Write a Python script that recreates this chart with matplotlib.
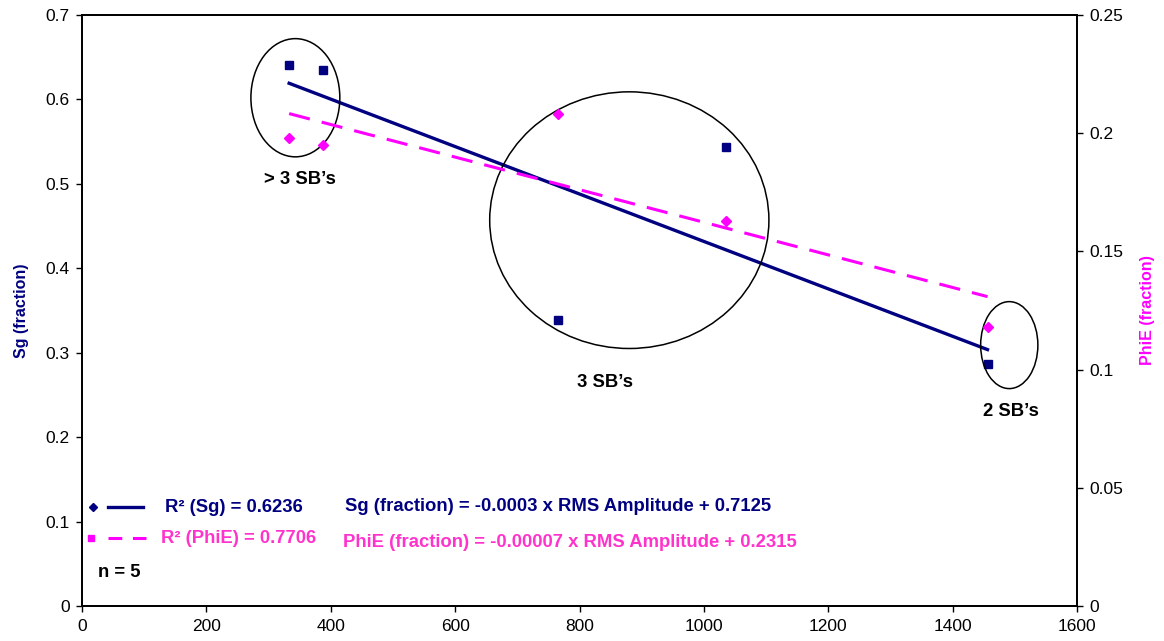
import numpy as np
import matplotlib
matplotlib.use("Agg")
import matplotlib.pyplot as plt
from matplotlib.patches import Ellipse

plt.rcParams['font.family'] = ['Liberation Sans', 'DejaVu Sans']

# data
rms_amp = [333, 388, 766, 1035, 1456]
sg = [0.641, 0.635, 0.339, 0.544, 0.287]
phie = [0.198, 0.195, 0.208, 0.163, 0.118]

x_ticks = [0, 200, 400, 600, 800, 1000, 1200, 1400, 1600]
sg_ticks = [0, 0.1, 0.2, 0.3, 0.4, 0.5, 0.6, 0.7]
phie_ticks = [0, 0.05, 0.1, 0.15, 0.2, 0.25]

# groups: label, text position, ellipse centre / width / height (data units, Sg axis)
group_labels = ["> 3 SB\u2019s", "3 SB\u2019s", "2 SB\u2019s"]
group_text_xy = [(350, 0.505), (841, 0.265), (1494, 0.230)]
group_ellipses = [((343, 0.602), 143, 0.140),
                  ((880, 0.457), 449, 0.304),
                  ((1491, 0.309), 92, 0.103)]

NAVY = '#000080'
MAG = '#FF00FF'
PINK = '#FF33CC'
TXT = 13.3

fig = plt.figure(figsize=(11.64, 6.41), dpi=100)
ax = fig.add_axes([0.0705, 0.0546, 0.8548, 0.922])
ax2 = ax.twinx()

# scatter points
ax.plot(rms_amp, sg, linestyle='none', marker='s', markersize=6, color=NAVY, zorder=3)
ax2.plot(rms_amp, phie, linestyle='none', marker='D', markersize=5.5, color=MAG, zorder=3)

# linear trend lines
xs = np.array([min(rms_amp), max(rms_amp)])
p_sg = np.polyfit(rms_amp, sg, 1)
p_ph = np.polyfit(rms_amp, phie, 1)
ax.plot(xs, np.polyval(p_sg, xs), color=NAVY, linewidth=2.4, zorder=2)
ax2.plot(xs, np.polyval(p_ph, xs), color=MAG, linewidth=2.2, dashes=(7, 4), zorder=2)

# axes setup
ax.set_xlim(0, 1600)
ax.set_ylim(0, 0.7)
ax2.set_ylim(0, 0.25)
ax.set_xticks(x_ticks)
ax.set_yticks(sg_ticks)
ax2.set_yticks(phie_ticks)
ax.set_xticklabels([str(t) for t in x_ticks])
ax.set_yticklabels(['0'] + ['%.1f' % t for t in sg_ticks[1:]])
ax2.set_yticklabels(['0', '0.05', '0.1', '0.15', '0.2', '0.25'])
for a in (ax, ax2):
    a.tick_params(direction='out', length=4, width=1, labelsize=12.5, colors='black', pad=5)
    for s in a.spines.values():
        s.set_linewidth(1.3)

ax.set_ylabel('Sg (fraction)', color=NAVY, fontsize=11.5, fontweight='bold', labelpad=12)
ax2.set_ylabel('PhiE (fraction)', color=MAG, fontsize=11.5, fontweight='bold',
               rotation=90, labelpad=12)

# ellipses + group labels
for (c, w, h) in group_ellipses:
    ax.add_patch(Ellipse(c, w, h, fill=False, edgecolor='black', linewidth=1.1, zorder=4))
for lab, (tx, ty) in zip(group_labels, group_text_xy):
    ax.text(tx, ty, lab, ha='center', va='center', fontsize=TXT, fontweight='bold')

# legend (drawn by hand, Excel style)
tr = ax.transAxes
ax.plot([0.011], [0.1675], marker='D', markersize=4.5, color=NAVY, transform=tr, clip_on=False)
ax.plot([0.026, 0.061], [0.1675, 0.1675], color=NAVY, linewidth=2.4, transform=tr)
ax.text(0.083, 0.1675, 'R\u00b2 (Sg) = 0.6236', transform=tr, color=NAVY,
        fontsize=TXT, fontweight='bold', va='center', ha='left')
ax.plot([0.009], [0.115], marker='s', markersize=5, color=MAG, transform=tr, clip_on=False)
ax.plot([0.026, 0.064], [0.115, 0.115], color=MAG, linewidth=2.2, dashes=(4.5, 3.5), transform=tr)
ax.text(0.079, 0.115, 'R\u00b2 (PhiE) = 0.7706', transform=tr, color=PINK,
        fontsize=TXT, fontweight='bold', va='center', ha='left')
ax.text(0.016, 0.056, 'n = 5', transform=tr, color='black',
        fontsize=TXT, fontweight='bold', va='center', ha='left')

ax.text(0.264, 0.168, 'Sg (fraction) = -0.0003 x RMS Amplitude + 0.7125', transform=tr,
        color=NAVY, fontsize=TXT, fontweight='bold', va='center', ha='left')
ax.text(0.262, 0.108, 'PhiE (fraction) = -0.00007 x RMS Amplitude + 0.2315', transform=tr,
        color=PINK, fontsize=TXT, fontweight='bold', va='center', ha='left')

fig.savefig('out.png', dpi=100)
